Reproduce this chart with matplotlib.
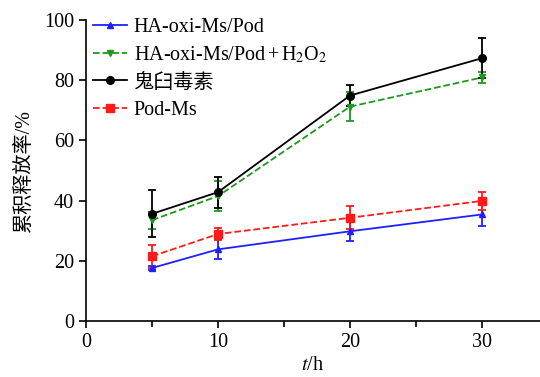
import matplotlib
matplotlib.use("Agg")
import matplotlib.pyplot as plt
from matplotlib.ticker import MultipleLocator
from matplotlib.lines import Line2D

plt.rcParams['font.family'] = ['Liberation Serif', 'Noto Sans CJK SC', 'DejaVu Sans']
plt.rcParams['mathtext.fontset'] = 'stix'

t = [5, 10, 20, 30]
labels = ['HA-oxi-Ms/Pod', 'HA-oxi-Ms/Pod$\\,$+$\\,$H$_2$O$_2$', '鬼臼毒素', 'Pod-Ms']
blue = [17.6, 23.8, 29.8, 35.4]
blue_err = [0.7, 3.3, 3.3, 4.0]
green = [33.5, 41.5, 71.2, 80.9]
green_err = [2.8, 5.0, 4.8, 1.7]
black = [35.6, 42.8, 74.9, 87.3]
black_err = [7.8, 5.1, 3.5, 6.6]
red = [21.5, 28.9, 34.3, 39.9]
red_err = [3.8, 2.1, 3.8, 3.1]

series = [
    (blue, blue_err, '#1f1fff', '-', '^', 5),
    (green, green_err, '#1a9a1a', '--', 'v', 5),
    (black, black_err, 'black', '-', 'o', 5.5),
    (red, red_err, '#ff1a1a', '--', 's', 6),
]

FS = 14.5
fig = plt.figure(figsize=(5.4, 3.77), dpi=100)
ax = fig.add_axes([86/540, 1-321/377, 1-86/540, 301/377])

handles = []
for (vals, errs, c, ls, mk, ms), lab in zip(series, labels):
    ax.errorbar(t, vals, yerr=errs, color=c, linestyle=ls, marker=mk, markersize=ms,
                linewidth=1.3, capsize=3, capthick=1.3, elinewidth=1.3)
    handles.append(Line2D([], [], color=c, linestyle=ls, marker=mk, markersize=ms,
                          linewidth=1.3, label=lab))

ax.set_xlim(0, 34.4)
ax.set_ylim(0, 100)
ax.xaxis.set_major_locator(MultipleLocator(10))
ax.xaxis.set_minor_locator(MultipleLocator(5))
ax.yaxis.set_major_locator(MultipleLocator(20))
for s in ['top', 'right']:
    ax.spines[s].set_visible(False)
for s in ['left', 'bottom']:
    ax.spines[s].set_linewidth(1.2)
ax.tick_params(which='both', direction='out', width=1.2, labelsize=FS)
ax.tick_params(which='major', length=5)
ax.tick_params(which='minor', length=4)

ax.set_xlabel('$t$/h', fontsize=FS, labelpad=3)
ax.set_ylabel('累积释放率/%', fontsize=FS, labelpad=7)

ax.legend(handles=handles, loc='upper left', bbox_to_anchor=(-0.015, 1.055), frameon=False,
          fontsize=FS, handlelength=1.65, handletextpad=0.35, labelspacing=0.4, borderpad=0.2)

fig.savefig('out.png', dpi=100)
